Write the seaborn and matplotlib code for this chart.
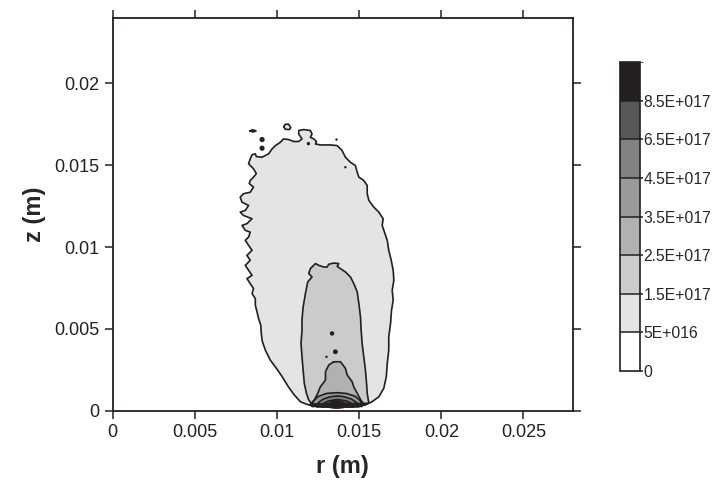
import numpy as np
import pandas as pd
import matplotlib
matplotlib.use("Agg")
import matplotlib.pyplot as plt
import seaborn as sns
from matplotlib.colors import ListedColormap, BoundaryNorm
from matplotlib.cm import ScalarMappable

# ---------------------------------------------------------
# data: contour outlines, r and z in mm
# ---------------------------------------------------------

# 5E+016 level (outer plume)
outer_r = [12.64, 15.38, 15.79, 16.20, 16.50, 16.65, 16.71, 16.80, 16.80, 16.91,
           16.97, 17.07, 17.01, 17.11, 17.07, 16.95, 16.80, 16.71, 16.54, 16.40,
           16.46, 16.20, 15.89, 15.59, 15.49, 15.49, 15.28, 14.98, 14.88, 14.77,
           14.47, 14.16, 13.96, 13.66, 13.25, 12.64, 12.34, 12.40, 12.23, 12.03,
           12.13, 12.03, 11.62, 11.32, 11.32, 11.52, 11.32, 11.01, 10.71, 10.40,
           10.20, 9.90, 9.70, 9.49, 9.09, 8.74, 8.68, 8.48, 8.37, 8.27,
           8.57, 8.74, 8.57, 8.37, 8.31, 8.57, 8.37, 7.96, 7.76, 7.87,
           8.27, 8.07, 7.76, 7.96, 8.48, 8.17, 7.87, 8.07, 8.37, 8.27,
           8.07, 8.27, 8.48, 8.17, 8.37, 8.07, 8.27, 8.48, 8.17, 8.37,
           8.57, 8.48, 8.68, 8.68, 8.78, 8.88, 9.01, 9.04, 9.10, 9.29,
           9.59, 9.96, 10.32, 10.69, 11.05, 11.42, 11.83]
outer_z = [0.29, 0.35, 0.55, 0.85, 1.37, 2.07, 2.89, 3.70, 4.51, 5.33,
           6.14, 6.75, 7.36, 7.97, 8.58, 9.19, 9.80, 10.41, 10.91, 11.32,
           11.73, 12.13, 12.44, 12.85, 13.26, 13.76, 14.07, 14.27, 14.57, 14.98,
           15.18, 15.49, 15.90, 16.20, 16.24, 16.24, 16.30, 16.45, 16.61, 16.71,
           16.91, 17.12, 17.18, 17.12, 16.91, 16.61, 16.45, 16.45, 16.57, 16.61,
           16.40, 16.20, 16.00, 15.70, 15.49, 15.53, 15.70, 15.64, 15.39, 15.09,
           14.78, 14.49, 14.27, 14.07, 13.88, 13.66, 13.35, 13.26, 13.05, 12.74,
           12.54, 12.24, 12.13, 11.93, 11.73, 11.43, 11.32, 11.02, 10.91, 10.61,
           10.41, 10.10, 9.80, 9.49, 9.19, 8.88, 8.58, 8.27, 8.07, 7.77,
           7.46, 7.16, 6.85, 6.45, 6.04, 5.63, 5.23, 4.74, 4.25, 3.70,
           3.09, 2.59, 2.07, 1.46, 0.96, 0.55, 0.38]

# 1.5E+017 level
mid_r = [12.13, 11.93, 11.79, 11.66, 11.59, 11.52, 11.46, 11.52, 11.52, 11.59,
         11.73, 11.87, 12.13, 11.93, 12.03, 12.34, 12.54, 12.84, 13.05, 13.15,
         13.45, 13.76, 13.66, 13.86, 14.16, 14.47, 14.67, 14.88, 14.98, 15.08,
         15.12, 15.18, 15.28, 15.38, 15.45, 15.49, 15.59]
mid_z = [0.41, 0.65, 1.06, 1.67, 2.48, 3.29, 4.11, 4.92, 5.53, 6.34,
         7.16, 7.87, 8.17, 8.38, 8.68, 8.99, 8.88, 8.78, 8.78, 8.95,
         9.02, 8.99, 8.82, 8.68, 8.48, 8.17, 7.77, 7.26, 6.55, 5.73,
         4.92, 4.11, 3.29, 2.48, 1.67, 1.06, 0.45]

# 2.5E+017 level
core_r = [13.45, 13.86, 14.16, 14.27, 14.57, 14.67, 14.88, 15.10, 15.33,
          11.98, 12.27, 12.48, 12.64, 12.95, 12.95, 13.15]
core_z = [2.99, 2.99, 2.59, 2.18, 1.77, 1.46, 1.06, 0.65, 0.33,
          0.33, 0.65, 1.06, 1.46, 1.87, 2.38, 2.79]

# 3.5E+017, 4.5E+017, 6.5E+017 arches at the nozzle and the 8.5E+017 blob
arch1_r = [12.13, 12.21, 12.52, 13.01, 13.62, 14.23, 14.77, 15.08, 15.18]
arch1_z = [0.26, 0.59, 0.87, 1.05, 1.10, 1.05, 0.87, 0.59, 0.26]
arch2_r = [12.44, 12.52, 12.82, 13.25, 13.68, 14.10, 14.53, 14.84, 14.98]
arch2_z = [0.24, 0.50, 0.71, 0.85, 0.90, 0.85, 0.71, 0.50, 0.24]
arch3_r = [12.74, 12.82, 13.13, 13.68, 14.23, 14.53, 14.67]
arch3_z = [0.23, 0.44, 0.59, 0.68, 0.59, 0.44, 0.23]
peak_r = [13.07, 13.25, 13.62, 13.98, 14.16, 14.04, 13.62, 13.25]
peak_z = [0.26, 0.50, 0.59, 0.50, 0.35, 0.20, 0.16, 0.20]

# small detached islands above the plume
island1_r = [10.41, 10.50, 10.70, 10.84, 10.75, 10.50]
island1_z = [17.35, 17.50, 17.51, 17.30, 17.18, 17.20]
island2_r = [8.35, 8.50, 8.72, 8.55]
island2_z = [17.10, 17.17, 17.10, 17.03]

# tiny dots (point-like contours)
dot_r = [9.09, 9.09, 11.91, 13.62, 14.16, 13.35, 13.55, 13.01]
dot_z = [16.57, 16.04, 16.32, 16.57, 14.88, 4.72, 3.60, 3.29]
dot_s = [14, 14, 6, 3, 3, 10, 12, 3]

levels = [0, 5e16, 1.5e17, 2.5e17, 3.5e17, 4.5e17, 6.5e17, 8.5e17, 1.05e18]
level_labels = ["0", "5E+016", "1.5E+017", "2.5E+017", "3.5E+017",
                "4.5E+017", "6.5E+017", "8.5E+017"]
band_colors = ["#ffffff", "#e4e4e6", "#cbcbcd", "#b1b1b3", "#9a9a9c",
               "#828284", "#58585a", "#231f20"]

x_ticks = [0, 0.005, 0.01, 0.015, 0.02, 0.025]
x_tick_labels = ["0", "0.005", "0.01", "0.015", "0.02", "0.025"]
y_ticks = [0, 0.005, 0.01, 0.015, 0.02]
y_tick_labels = ["0", "0.005", "0.01", "0.015", "0.02"]

# ---------------------------------------------------------
# plot
# ---------------------------------------------------------

sns.set_style("ticks")
plt.rcParams["font.family"] = ["Liberation Sans", "DejaVu Sans"]

fig = plt.figure(figsize=(7.18, 4.82), dpi=100)
ax = fig.add_axes([0.157, 0.148, 0.6407, 0.8147])

line_col = "#231f20"


def mm(v):
    return np.asarray(v) / 1000.0


shapes = [
    (outer_r, outer_z, band_colors[1]),
    (mid_r, mid_z, band_colors[2]),
    (core_r, core_z, band_colors[3]),
    (arch1_r, arch1_z, band_colors[4]),
    (arch2_r, arch2_z, band_colors[5]),
    (arch3_r, arch3_z, band_colors[6]),
    (peak_r, peak_z, band_colors[7]),
    (island1_r, island1_z, band_colors[1]),
    (island2_r, island2_z, band_colors[1]),
]

for r, z, col in shapes:
    r_c = np.append(mm(r), mm(r)[0])
    z_c = np.append(mm(z), mm(z)[0])
    ax.fill(r_c, z_c, color=col, zorder=2)
    outline = pd.DataFrame({"r": r_c, "z": z_c})
    sns.lineplot(data=outline, x="r", y="z", sort=False, estimator=None,
                 color=line_col, lw=1.2, ax=ax, zorder=3)

dots = pd.DataFrame({"r": mm(dot_r), "z": mm(dot_z), "s": dot_s})
sns.scatterplot(data=dots, x="r", y="z", size="s", sizes=(3, 14),
                color=line_col, edgecolor="none", legend=False, ax=ax, zorder=4)

ax.set_xlim(0, 0.028)
ax.set_ylim(0, 0.024)
ax.set_xticks(x_ticks)
ax.set_xticklabels(x_tick_labels)
ax.set_yticks(y_ticks)
ax.set_yticklabels(y_tick_labels)
ax.tick_params(direction="out", length=6, width=1.1, top=True, right=True,
               labelsize=13, color=line_col, labelcolor="#231f20")
for s in ax.spines.values():
    s.set_linewidth(1.3)
    s.set_color(line_col)

ax.set_xlabel("r (m)", fontsize=17, fontweight="bold", labelpad=10)
ax.set_ylabel("z (m)", fontsize=17, fontweight="bold", labelpad=6)

# colour bar
cax = fig.add_axes([0.8635, 0.2303, 0.0279, 0.6404])
cmap = ListedColormap(band_colors)
norm = BoundaryNorm(levels, cmap.N)
sm = ScalarMappable(norm=norm, cmap=cmap)
cb = fig.colorbar(sm, cax=cax, spacing="uniform", ticks=levels[:-1], drawedges=True)
cb.ax.set_yticklabels(level_labels)
cb.ax.tick_params(length=2, width=1.1, labelsize=11.3, pad=0.5, color=line_col)
cb.outline.set_linewidth(1.2)
cb.outline.set_edgecolor(line_col)
cb.dividers.set_color(line_col)
cb.dividers.set_linewidth(1.1)

fig.savefig("out.png", dpi=100)
